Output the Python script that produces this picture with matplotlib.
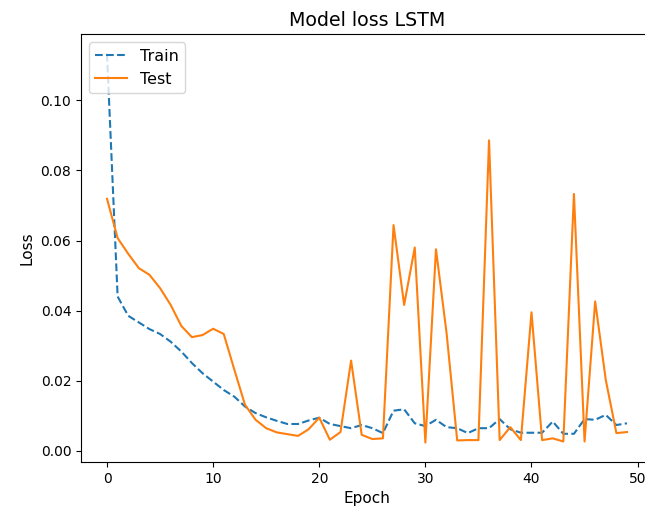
import matplotlib
matplotlib.use("Agg")
import matplotlib.pyplot as plt

# loss values per epoch
train_loss = [0.1133, 0.0440, 0.0385, 0.0366, 0.0347, 0.0333, 0.0311, 0.0283, 0.0250, 0.0221,
              0.0197, 0.0173, 0.0154, 0.0126, 0.0107, 0.0095, 0.0085, 0.0076, 0.0076, 0.0086,
              0.0094, 0.0076, 0.0070, 0.0064, 0.0073, 0.0064, 0.0050, 0.0114, 0.0118, 0.0078,
              0.0070, 0.0088, 0.0067, 0.0064, 0.0050, 0.0064, 0.0064, 0.0090, 0.0061, 0.0051,
              0.0051, 0.0051, 0.0083, 0.0048, 0.0048, 0.0090, 0.0088, 0.0102, 0.0073, 0.0078]
test_loss = [0.0719, 0.0607, 0.0562, 0.0521, 0.0502, 0.0464, 0.0416, 0.0356, 0.0324, 0.0330,
             0.0348, 0.0333, 0.0231, 0.0131, 0.0088, 0.0064, 0.0052, 0.0047, 0.0042, 0.0061,
             0.0094, 0.0031, 0.0053, 0.0257, 0.0045, 0.0033, 0.0035, 0.0644, 0.0416, 0.0580,
             0.0023, 0.0575, 0.0335, 0.0029, 0.0030, 0.0030, 0.0886, 0.0030, 0.0067, 0.0030,
             0.0395, 0.0030, 0.0035, 0.0026, 0.0733, 0.0026, 0.0426, 0.0202, 0.0050, 0.0053]

fig = plt.figure(figsize=(6.45, 5.14), dpi=100)
plt.plot(train_loss, linestyle="--", label="Train")
plt.plot(test_loss, label="Test")
plt.title("Model loss LSTM", fontsize=13.7)
plt.ylabel("Loss", fontsize=11)
plt.xlabel("Epoch", fontsize=11)
plt.legend(loc="upper left", fontsize=11.5)
# the reference is cropped on the right, so the axes run past the figure edge
plt.subplots_adjust(left=0.1256, right=1.0124, top=0.933, bottom=0.1012)
plt.savefig("out.png")
